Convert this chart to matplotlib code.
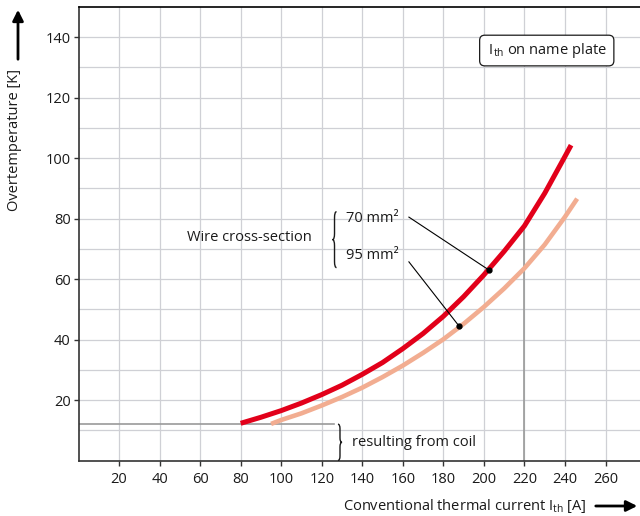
import numpy as np
import matplotlib
matplotlib.use("Agg")
import matplotlib.pyplot as plt
from matplotlib.path import Path
from matplotlib.patches import PathPatch, FancyArrowPatch

plt.rcParams['font.family'] = ['Open Sans', 'DejaVu Sans']
plt.rcParams['mathtext.default'] = 'regular'

# curves (current in A, overtemperature in K)
red_x = [80, 90, 100, 110, 120, 130, 140, 150, 160, 170, 180, 190, 200, 210, 220, 230, 240, 243]
red_y = [12.3, 14.3, 16.5, 19.0, 21.8, 24.9, 28.5, 32.4, 37.0, 42.0, 47.7, 54.2, 61.4, 69.2, 77.6, 88.4, 100.6, 104.3]
salmon_x = [95, 100, 110, 120, 130, 140, 150, 160, 170, 180, 190, 200, 210, 220, 230, 240, 246]
salmon_y = [12.1, 13.4, 15.6, 18.2, 21.0, 24.1, 27.6, 31.4, 35.6, 40.1, 45.2, 50.8, 56.9, 63.6, 71.4, 80.6, 86.6]

coil_level = 12
coil_end = 126
nameplate_current = 220
x_ticks = list(range(20, 261, 20))
y_ticks = list(range(20, 141, 20))

red = "#e2001a"
salmon = "#f2ad91"
grid_col = "#cfd0d5"
gray = "#9a9a9a"
txt = "#1a1a1a"

fig = plt.figure(figsize=(6.4, 5.16), dpi=100)
ax = fig.add_axes([78.5 / 640, 55.5 / 516, (640 - 78.5) / 640, (460.5 - 7) / 516])
ax.set_xlim(0, 277)
ax.set_ylim(0, 150)

ax.set_xticks(x_ticks)
ax.set_yticks(y_ticks)
ax.set_yticks(range(10, 150, 10), minor=True)
ax.grid(True, which='both', color=grid_col, lw=0.9)
ax.set_axisbelow(True)
ax.tick_params(which='minor', length=0)
ax.tick_params(which='major', length=3.5, width=1, color="#333333", labelsize=10.5,
               labelcolor=txt)
ax.tick_params(axis='x', pad=5)
ax.tick_params(axis='y', pad=2)
ax.spines['right'].set_visible(False)
ax.spines['top'].set_color("black")
ax.spines['top'].set_linewidth(1.2)
for s in ['left', 'bottom']:
    ax.spines[s].set_color("#333333")
    ax.spines[s].set_linewidth(1.2)

# reference lines
ax.plot([0, coil_end], [coil_level, coil_level], color=gray, lw=1.2, zorder=2)
ax.plot([nameplate_current, nameplate_current], [0, red_y[red_x.index(nameplate_current)]],
        color=gray, lw=1.2, zorder=2)

ax.plot(salmon_x, salmon_y, color=salmon, lw=3.3, solid_capstyle='butt', zorder=3)
ax.plot(red_x, red_y, color=red, lw=3.6, solid_capstyle='butt', zorder=4)


def brace(x, y0, y1, w, r, left=True):
    xm = x
    xt = x - w if left else x + w
    xe = x + w if left else x - w
    ym = (y0 + y1) / 2
    verts = [(xe, y1), (xm, y1), (xm, y1 - r), (xm, ym + r), (xm, ym), (xt, ym),
             (xm, ym), (xm, ym - r), (xm, y0 + r), (xm, y0), (xe, y0)]
    codes = [Path.MOVETO, Path.CURVE3, Path.CURVE3, Path.LINETO, Path.CURVE3, Path.CURVE3,
             Path.CURVE3, Path.CURVE3, Path.LINETO, Path.CURVE3, Path.CURVE3]
    ax.add_patch(PathPatch(Path(verts, codes), fill=False, lw=1.0, color=txt, zorder=5))


# annotations
ax.text(53.5, 73.6, "Wire cross-section", fontsize=10.5, va='center', color=txt)
brace(126.3, 63.8, 82.3, 1.0, 2.0, left=True)
ax.text(132, 80, "70 mm²", fontsize=10.5, va='center', color=txt)
ax.text(132, 67.9, "95 mm²", fontsize=10.5, va='center', color=txt)
ax.plot([163, 202.7], [80.5, 62.9], color="black", lw=0.8, zorder=5)
ax.plot([163, 187.8], [65.7, 44.4], color="black", lw=0.8, zorder=5)
ax.plot([202.7, 187.8], [62.9, 44.4], 'o', color="black", ms=3.5, lw=0, zorder=6)

brace(129.0, 0, coil_level, 1.0, 1.5, left=False)
ax.text(135, 6, "resulting from coil", fontsize=10.5, va='center', color=txt)

ax.text(231, 135.6, r" I$_{th}$ on name plate ", fontsize=10.5, ha='center', va='center',
        color=txt,
        bbox=dict(boxstyle='round,pad=0.4,rounding_size=0.35', fc='white', ec=txt, lw=0.9))

# axis labels with arrows
fig.text(15 / 640, 1 - 140 / 516, "Overtemperature [K]", rotation=90, fontsize=10.5,
         ha='center', va='center', color=txt)
fig.text(465 / 640, 1 - 506 / 516, r"Conventional thermal current I$_{th}$ [A]", fontsize=10.5,
         ha='center', va='center', color=txt)
fig.patches.append(FancyArrowPatch((18 / 640, 1 - 62 / 516), (18 / 640, 1 - 7 / 516),
                                   transform=fig.transFigure, arrowstyle='-|>',
                                   mutation_scale=16, lw=2, color="black"))
fig.patches.append(FancyArrowPatch((593 / 640, 1 - 506 / 516), (640 / 640, 1 - 506 / 516),
                                   transform=fig.transFigure, arrowstyle='-|>',
                                   mutation_scale=16, lw=2, color="black"))

fig.savefig("out.png", dpi=100)
